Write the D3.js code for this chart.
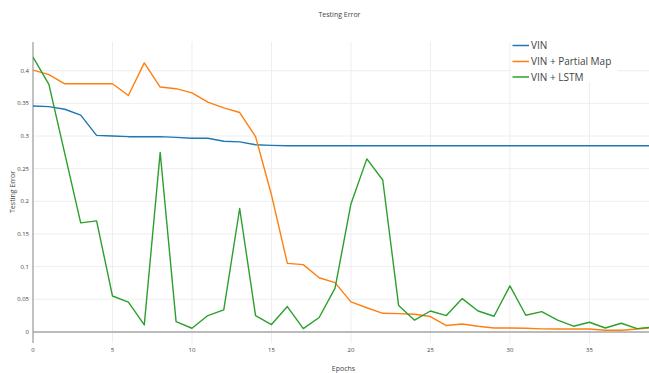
<!DOCTYPE html>
<html>
<head>
<meta charset="utf-8">
<script src="https://cdn.jsdelivr.net/npm/d3@7"></script>
<style>
html,body{margin:0;padding:0;background:#fff;}
svg{display:block;font-family:"Open Sans",sans-serif;}
</style>
</head>
<body>
<svg id="chart" width="649" height="373"></svg>
<script>
const epochs = d3.range(0, 40);
const vin = [0.346,0.345,0.341,0.332,0.301,0.300,0.299,0.299,0.299,0.298,0.2965,0.2965,0.292,0.291,0.2867,0.2857,0.285,0.285,0.285,0.285,
  0.285,0.285,0.285,0.285,0.285,0.285,0.285,0.285,0.285,0.285,0.285,0.285,0.285,0.285,0.285,0.285,0.285,0.285,0.285,0.285];
const vinPartial = [0.401,0.394,0.380,0.380,0.380,0.380,0.362,0.412,0.375,0.3725,0.366,0.352,0.343,0.336,0.299,0.210,0.105,0.103,0.083,0.0755,
  0.046,0.037,0.0285,0.028,0.027,0.0235,0.0097,0.012,0.0087,0.006,0.006,0.0055,0.0046,0.0045,0.0045,0.0045,0.0025,0.0025,0.0045,0.0065];
const vinLstm = [0.421,0.379,0.273,0.167,0.170,0.055,0.0455,0.0107,0.275,0.0158,0.0056,0.025,0.0337,0.189,0.025,0.0112,0.0388,0.005,0.022,0.067,
  0.196,0.265,0.2327,0.0403,0.018,0.032,0.025,0.051,0.032,0.024,0.0704,0.0255,0.031,0.018,0.0087,0.0148,0.006,0.0133,0.005,0.0075];
const seriesNames = ["VIN","VIN + Partial Map","VIN + LSTM"];
const seriesColors = ["#1f77b4","#ff7f0e","#2ca02c"];
const xTicks = [0,5,10,15,20,25,30,35];
const yTicks = [0,0.05,0.1,0.15,0.2,0.25,0.3,0.35,0.4];
const yTickLabels = ["0","0.05","0.1","0.15","0.2","0.25","0.3","0.35","0.4"];

const svg = d3.select("#chart");
const L = 33, R = 653, T = 42, B = 343;
const x = d3.scaleLinear().domain([0, 39]).range([L, R]);
const y = d3.scaleLinear().domain([-0.017, 0.444]).range([B, T]);

svg.append("defs").append("clipPath").attr("id","clip")
  .append("rect").attr("x",L).attr("y",T).attr("width",R-L).attr("height",B-T);

// grid
const grid = svg.append("g");
grid.selectAll("line.vx").data(xTicks.filter(d=>d>0)).enter().append("line")
  .attr("x1",d=>x(d)).attr("x2",d=>x(d)).attr("y1",T).attr("y2",B)
  .attr("stroke","#eee").attr("stroke-width",1);
grid.selectAll("line.hy").data(yTicks.filter(d=>d>0)).enter().append("line")
  .attr("x1",L).attr("x2",R).attr("y1",d=>y(d)).attr("y2",d=>y(d))
  .attr("stroke","#eee").attr("stroke-width",1);

// zero line
svg.append("line").attr("x1",L).attr("x2",R).attr("y1",y(0)).attr("y2",y(0))
  .attr("stroke","#bbb").attr("stroke-width",2);

// y axis line
svg.append("line").attr("x1",L).attr("x2",L).attr("y1",T).attr("y2",B)
  .attr("stroke","#999").attr("stroke-width",1.2);

// tick labels
svg.append("g").selectAll("text").data(yTicks).enter().append("text")
  .attr("x",L-4).attr("y",d=>y(d)).attr("dy","0.35em")
  .attr("text-anchor","end").attr("font-size",6).attr("fill","#444")
  .text((d,i)=>yTickLabels[i]);
svg.append("g").selectAll("text").data(xTicks).enter().append("text")
  .attr("x",d=>x(d)).attr("y",352)
  .attr("text-anchor","middle").attr("font-size",6).attr("fill","#444")
  .text(d=>d);

// lines
const allSeries = [vin, vinPartial, vinLstm];
const lineGen = d3.line().x((d,i)=>x(epochs[i])).y(d=>y(d));
const lines = svg.append("g").attr("clip-path","url(#clip)");
allSeries.forEach((s,k)=>{
  lines.append("path").datum(s).attr("d",lineGen)
    .attr("fill","none").attr("stroke",seriesColors[k]).attr("stroke-width",1.4)
    .attr("stroke-linejoin","round");
});

// titles
svg.append("text").attr("x",339.5).attr("y",16.5).attr("text-anchor","middle")
  .attr("font-size",7).attr("fill","#444").text("Testing Error");
svg.append("text").attr("x",343.5).attr("y",371).attr("text-anchor","middle")
  .attr("font-size",7).attr("fill","#444").text("Epochs");
svg.append("text").attr("transform","translate(15,192) rotate(-90)").attr("text-anchor","middle")
  .attr("font-size",7).attr("fill","#444").text("Testing Error");

// legend
const lg = svg.append("g");
lg.append("rect").attr("x",511).attr("y",37).attr("width",106).attr("height",45).attr("fill","#fff");
const rowsY = [45.5,61.5,77];
seriesNames.forEach((n,k)=>{
  lg.append("line").attr("x1",512.5).attr("x2",529).attr("y1",rowsY[k]).attr("y2",rowsY[k])
    .attr("stroke",seriesColors[k]).attr("stroke-width",1.5);
  lg.append("text").attr("x",531).attr("y",rowsY[k]).attr("dy","0.35em")
    .attr("font-size",10).attr("fill","#444").text(n);
});
</script>
</body>
</html>
